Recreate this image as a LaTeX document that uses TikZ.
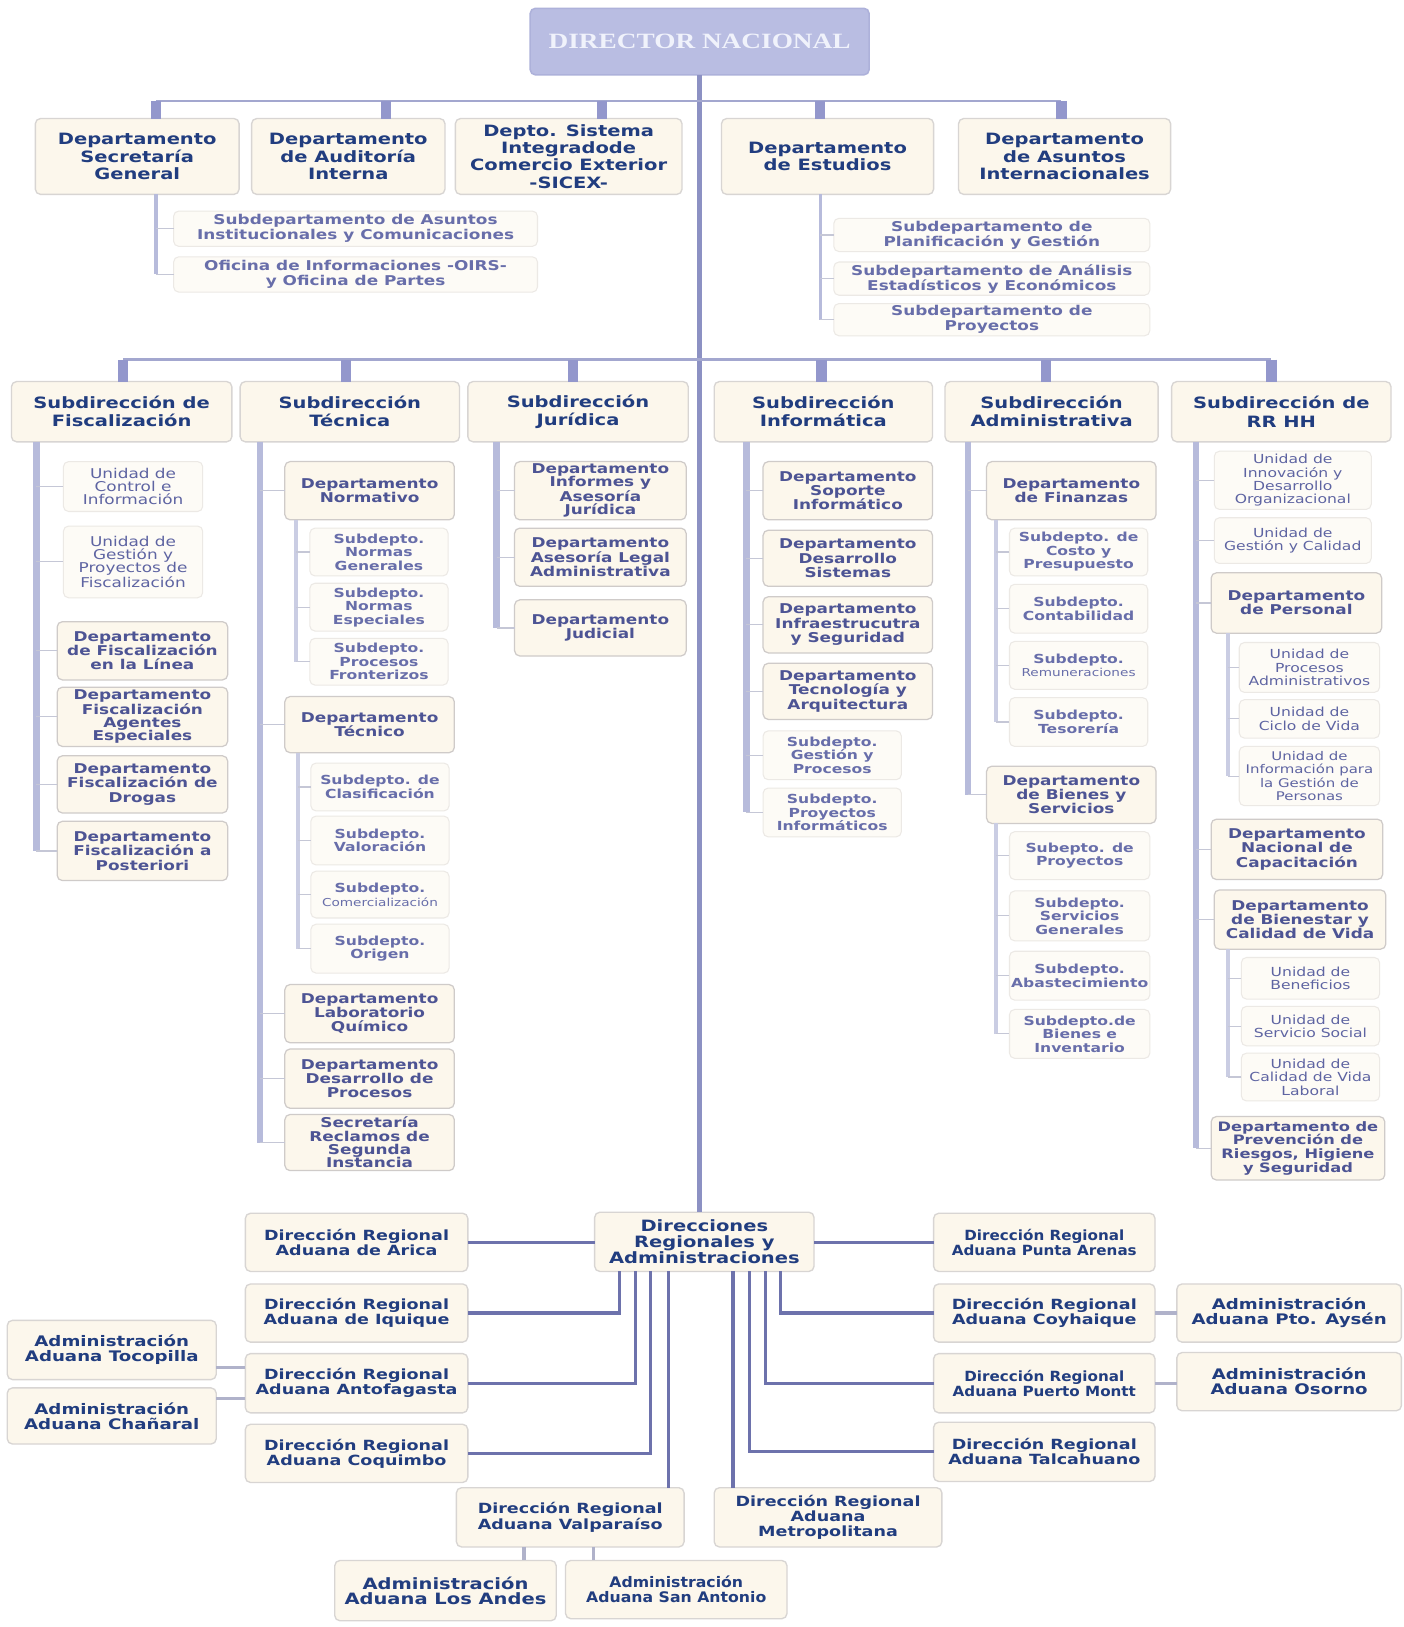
\documentclass[tikz,border=0pt]{standalone}
\usepackage{fontspec}
\newfontfamily\bxf[FakeStretch=1.25]{DejaVu Sans}
\newfontfamily\bxn[FakeStretch=1.08]{DejaVu Sans}
\newfontfamily\dirf[FakeStretch=1.25]{Liberation Serif}
\definecolor{cNavy}{HTML}{213D7F}
\definecolor{cMid}{HTML}{4D5494}
\definecolor{cLav}{HTML}{686EAA}
\definecolor{cUnit}{HTML}{5E64A2}
\definecolor{cCream}{HTML}{FCF7EC}
\definecolor{cCream2}{HTML}{FDFBF6}
\definecolor{cBord}{HTML}{D8D5D3}
\definecolor{cBordD}{HTML}{CFCBC9}
\definecolor{cBord2}{HTML}{ECE9E5}
\definecolor{cDir}{HTML}{B9BDE2}
\definecolor{cDirB}{HTML}{ADB1DA}
\definecolor{cDirT}{HTML}{F0F2FB}
\definecolor{cTrunk}{HTML}{8C91C3}
\definecolor{cH}{HTML}{A3A7CF}
\definecolor{cStub}{HTML}{9397CC}
\definecolor{cBar}{HTML}{B7BBDB}
\definecolor{cSubBar}{HTML}{CACDE3}
\definecolor{cKid}{HTML}{C5C7D6}
\definecolor{cReg}{HTML}{6D72AC}
\definecolor{cAdm}{HTML}{B0B2CA}
\newcommand\ob[7]{%
  \pgfmathsetmacro\obw{#5-#3}\pgfmathsetmacro\obh{#6-#4}%
  \pgfmathsetmacro\obx{(#3+#5)/2}\pgfmathsetmacro\oby{(#4+#6)/2}%
  \node[#1,minimum width=\obw pt,minimum height=\obh pt] (#2) at (\obx,\oby) {#7};}
\newcommand\okidto[2]{\draw[okid] (#2.west) -- (#2.west -| #1);}
\tikzset{
 obase/.style={rounded corners=5pt, inner sep=0pt, outer sep=0pt, align=center},
 dirbox/.style={obase, fill=cDir, draw=cDirB, line width=1.5pt, text=cDirT, font=\dirf\bfseries\fontsize{21}{22}\selectfont},
 topbox/.style={obase, fill=cCream, draw=cBord, line width=1.3pt, text=cNavy, font=\bxf\bfseries\fontsize{15}{16.5}\selectfont},
 subone/.style={obase, fill=cCream2, draw=cBord2, line width=1pt, text=cLav, font=\bxf\bfseries\fontsize{13}{14.5}\selectfont},
 headbox/.style={obase, fill=cCream, draw=cBord, line width=1.3pt, text=cNavy, font=\bxf\bfseries\fontsize{15}{17.5}\selectfont},
 deptbox/.style={obase, fill=cCream, draw=cBordD, line width=1.2pt, text=cMid, font=\bxf\bfseries\fontsize{13}{13.8}\selectfont},
 sdepbox/.style={obase, fill=cCream2, draw=cBord2, line width=1pt, text=cLav, font=\bxf\bfseries\fontsize{12}{13}\selectfont},
 unitbox/.style={obase, fill=cCream2, draw=cBord2, line width=1pt, text=cUnit, font=\bxf\fontsize{12}{12.8}\selectfont},
 regbox/.style={obase, fill=cCream, draw=cBord, line width=1.3pt, text=cNavy, font=\bxf\bfseries\fontsize{13.5}{14.5}\selectfont},
 admbox/.style={regbox, font=\bxf\bfseries\fontsize{14}{14.5}\selectfont},
 otrunk/.style={draw=cTrunk, line width=4.5pt},
 ohline/.style={draw=cH, line width=2.5pt},
 ostub/.style={draw=cStub, line width=10pt},
 obar/.style={draw=cBar, line width=6pt},
 osubbar/.style={draw=cSubBar, line width=4pt},
 otopbar/.style={draw=cBar, line width=3pt},
 okid/.style={draw=cKid, line width=1.1pt},
 oreg/.style={draw=cReg, line width=3pt},
 oadm/.style={draw=cAdm, line width=3pt},
}
\begin{document}
\begin{tikzpicture}[x=1pt,y=-1pt]
\useasboundingbox[fill=white] (0,0) rectangle (1350,1565);
% ---------- top level ----------
\ob{dirbox}{dir}{510}{8}{836}{72}{DIRECTOR NACIONAL}
\ob{topbox}{sg}{34}{114}{230}{187}{Departamento\\Secretaría\\General}
\ob{topbox}{ai}{242}{114}{428}{187}{Departamento\\de Auditoría\\Interna}
\ob{topbox}{sx}{438}{114}{656}{187}{Depto. Sistema\\Integradode\\Comercio Exterior\\-SICEX-}
\ob{topbox}{es}{694}{114}{898}{187}{Departamento\\de Estudios}
\ob{topbox}{ri}{922}{114}{1126}{187}{Departamento\\de Asuntos\\Internacionales}
\ob{subone}{sg1}{167}{203}{517}{237}{Subdepartamento de Asuntos\\Institucionales y Comunicaciones}
\ob{subone}{sg2}{167}{247}{517}{281}{Oficina de Informaciones -OIRS-\\y Oficina de Partes}
\ob{subone}{es1}{802}{210}{1106}{242}{Subdepartamento de\\Planificación y Gestión}
\ob{subone}{es2}{802}{252}{1106}{284}{Subdepartamento de Análisis\\Estadísticos y Económicos}
\ob{subone}{es3}{802}{292}{1106}{323}{Subdepartamento de\\Proyectos}
% ---------- subdirecciones ----------
\ob{headbox}{fi}{11}{367}{223}{425}{Subdirección de\\Fiscalización}
\ob{headbox}{te}{231}{367}{442}{425}{Subdirección\\Técnica}
\ob{headbox}{ju}{450}{367}{662}{425}{Subdirección\\Jurídica}
\ob{headbox}{in}{687}{367}{897}{425}{Subdirección\\Informática}
\ob{headbox}{ad}{909}{367}{1114}{425}{Subdirección\\Administrativa}
\ob{headbox}{rh}{1127}{367}{1338}{425}{Subdirección de\\RR HH}
% Fiscalizacion
\ob{unitbox,font=\bxf\fontsize{13}{12.8}\selectfont}{f1}{61}{444}{195}{492}{Unidad de\\Control e\\Información}
\ob{unitbox,font=\bxf\fontsize{13}{12.8}\selectfont}{f2}{61}{506}{195}{575}{Unidad de\\Gestión y\\Proyectos de\\Fiscalización}
\ob{deptbox}{f3}{55}{598}{219}{654}{Departamento\\de Fiscalización\\en la Línea}
\ob{deptbox,font=\bxf\bfseries\fontsize{13}{12.8}\selectfont}{f4}{55}{661}{219}{718}{Departamento\\Fiscalización\\Agentes\\Especiales}
\ob{deptbox}{f5}{55}{727}{219}{782}{Departamento\\Fiscalización de\\Drogas}
\ob{deptbox}{f6}{55}{790}{219}{847}{Departamento\\Fiscalización a\\Posteriori}
% Tecnica
\ob{deptbox}{t1}{274}{444}{437}{500}{Departamento\\Normativo}
\ob{sdepbox}{t11}{298}{508}{431}{554}{Subdepto.\\Normas\\Generales}
\ob{sdepbox}{t12}{298}{561}{431}{607}{Subdepto.\\Normas\\Especiales}
\ob{sdepbox}{t13}{298}{614}{431}{659}{Subdepto.\\Procesos\\Fronterizos}
\ob{deptbox}{t2}{274}{670}{437}{724}{Departamento\\Técnico}
\ob{sdepbox}{t21}{299}{734}{432}{780}{Subdepto. de\\Clasificación}
\ob{sdepbox}{t22}{299}{785}{432}{832}{Subdepto.\\Valoración}
\ob{sdepbox}{t23}{299}{838}{432}{883}{Subdepto.\\{\mdseries\fontsize{10.5}{13}\selectfont Comercialización}}
\ob{sdepbox}{t24}{299}{889}{432}{936}{Subdepto.\\Origen}
\ob{deptbox}{t3}{274}{947}{437}{1003}{Departamento\\Laboratorio\\Químico}
\ob{deptbox}{t4}{274}{1009}{437}{1066}{Departamento\\Desarrollo de\\Procesos}
\ob{deptbox,font=\bxf\bfseries\fontsize{13}{12.8}\selectfont}{t5}{274}{1072}{437}{1126}{Secretaría\\Reclamos de\\Segunda\\Instancia}
% Juridica
\ob{deptbox,font=\bxf\bfseries\fontsize{13}{12.8}\selectfont}{j1}{495}{444}{660}{500}{Departamento\\Informes y\\Asesoría\\Jurídica}
\ob{deptbox}{j2}{495}{508}{660}{564}{Departamento\\Asesoría Legal\\Administrativa}
\ob{deptbox}{j3}{495}{577}{660}{631}{Departamento\\Judicial}
% Informatica
\ob{deptbox}{i1}{734}{444}{897}{500}{Departamento\\Soporte\\Informático}
\ob{deptbox}{i2}{734}{510}{897}{564}{Departamento\\Desarrollo\\Sistemas}
\ob{deptbox}{i3}{734}{574}{897}{628}{Departamento\\Infraestrucutra\\y Seguridad}
\ob{deptbox}{i4}{734}{638}{897}{692}{Departamento\\Tecnología y\\Arquitectura}
\ob{sdepbox}{i5}{734}{703}{867}{750}{Subdepto.\\Gestión y\\Procesos}
\ob{sdepbox}{i6}{734}{758}{867}{805}{Subdepto.\\Proyectos\\Informáticos}
% Administrativa
\ob{deptbox}{a1}{949}{444}{1112}{500}{Departamento\\de Finanzas}
\ob{sdepbox}{a11}{971}{508}{1104}{554}{Subdepto. de\\Costo y\\Presupuesto}
\ob{sdepbox}{a12}{971}{562}{1104}{609}{Subdepto.\\Contabilidad}
\ob{sdepbox}{a13}{971}{617}{1104}{663}{Subdepto.\\{\mdseries\fontsize{10.5}{13}\selectfont Remuneraciones}}
\ob{sdepbox}{a14}{971}{671}{1104}{718}{Subdepto.\\Tesorería}
\ob{deptbox}{a2}{949}{737}{1112}{792}{Departamento\\de Bienes y\\Servicios}
\ob{sdepbox}{a21}{971}{800}{1106}{846}{Subepto. de\\Proyectos}
\ob{sdepbox}{a22}{971}{857}{1106}{905}{Subdepto.\\Servicios\\Generales}
\ob{sdepbox}{a23}{971}{915}{1106}{962}{Subdepto.\\Abastecimiento}
\ob{sdepbox}{a24}{971}{971}{1106}{1018}{Subdepto.de\\Bienes e\\Inventario}
% RR HH
\ob{unitbox}{r1}{1168}{434}{1319}{490}{Unidad de\\Innovación y\\Desarrollo\\Organizacional}
\ob{unitbox}{r2}{1168}{498}{1319}{542}{Unidad de\\Gestión y Calidad}
\ob{deptbox}{r3}{1165}{551}{1329}{609}{Departamento\\de Personal}
\ob{unitbox}{r31}{1192}{618}{1327}{666}{Unidad de\\Procesos\\Administrativos}
\ob{unitbox}{r32}{1192}{673}{1327}{710}{Unidad de\\Ciclo de Vida}
\ob{unitbox,font=\bxf\fontsize{11.5}{12.8}\selectfont}{r33}{1192}{718}{1327}{775}{Unidad de\\Información para\\la Gestión de\\Personas}
\ob{deptbox}{r4}{1165}{788}{1330}{846}{Departamento\\Nacional de\\Capacitación}
\ob{deptbox}{r5}{1168}{856}{1333}{913}{Departamento\\de Bienestar y\\Calidad de Vida}
\ob{unitbox}{r51}{1194}{921}{1327}{961}{Unidad de\\Beneficios}
\ob{unitbox}{r52}{1194}{968}{1327}{1006}{Unidad de\\Servicio Social}
\ob{unitbox}{r53}{1194}{1013}{1327}{1059}{Unidad de\\Calidad de Vida\\Laboral}
\ob{deptbox,font=\bxf\bfseries\fontsize{12.5}{13.2}\selectfont}{r6}{1165}{1074}{1332}{1135}{Departamento de\\Prevención de\\Riesgos, Higiene\\y Seguridad}
% ---------- regional ----------
\ob{regbox,font=\bxf\bfseries\fontsize{15}{14.5}\selectfont}{dr}{572}{1166}{783}{1223}{Direcciones\\Regionales y\\Administraciones}
\ob{regbox}{ar}{236}{1167}{450}{1223}{Dirección Regional\\Aduana de Arica}
\ob{regbox}{iq}{236}{1235}{450}{1291}{Dirección Regional\\Aduana de Iquique}
\ob{regbox}{an}{236}{1302}{450}{1359}{Dirección Regional\\Aduana Antofagasta}
\ob{regbox}{co}{236}{1370}{450}{1426}{Dirección Regional\\Aduana Coquimbo}
\ob{regbox}{vp}{439}{1431}{658}{1488}{Dirección Regional\\Aduana Valparaíso}
\ob{regbox}{me}{687}{1431}{906}{1488}{Dirección Regional\\Aduana\\Metropolitana}
\ob{regbox,font=\bxn\bfseries\fontsize{13.5}{14.5}\selectfont}{pa}{898}{1167}{1111}{1223}{Dirección Regional\\Aduana Punta Arenas}
\ob{regbox}{cy}{898}{1235}{1111}{1291}{Dirección Regional\\Aduana Coyhaique}
\ob{regbox,font=\bxn\bfseries\fontsize{13.5}{14.5}\selectfont}{pm}{898}{1302}{1111}{1359}{Dirección Regional\\Aduana Puerto Montt}
\ob{regbox}{ta}{898}{1368}{1111}{1425}{Dirección Regional\\Aduana Talcahuano}
\ob{admbox}{ay}{1132}{1235}{1348}{1291}{Administración\\Aduana Pto. Aysén}
\ob{admbox}{os}{1132}{1301}{1348}{1357}{Administración\\Aduana Osorno}
\ob{admbox}{tc}{7}{1270}{208}{1327}{Administración\\Aduana Tocopilla}
\ob{admbox}{ch}{7}{1335}{208}{1389}{Administración\\Aduana Chañaral}
\ob{admbox,font=\bxf\bfseries\fontsize{15}{14.5}\selectfont}{la}{322}{1501}{535}{1559}{Administración\\Aduana Los Andes}
\ob{admbox,font=\bxn\bfseries\fontsize{14}{14.5}\selectfont}{sa}{544}{1501}{757}{1557}{Administración\\Aduana San Antonio}
% ---------- connectors: top ----------
\draw[otrunk] (dir.south) -- (dir.south |- dr.north);
\coordinate (u1) at (150,97); \coordinate (u2) at (371,97); \coordinate (u3) at (579,97);
\coordinate (u4) at (789,97); \coordinate (u5) at (1021,97);
\draw[ohline] (u1) -- (u5);
\draw[ostub] (u1) -- (sg.north -| u1);
\draw[ostub] (u2) -- (ai.north -| u2);
\draw[ostub] (u3) -- (sx.north -| u3);
\draw[ostub] (u4) -- (es.north -| u4);
\draw[ostub] (u5) -- (ri.north -| u5);
\draw[otopbar] (sg.south -| u1) -- (sg2.west -| u1);
\okidto{u1}{sg1}\okidto{u1}{sg2}
\draw[otopbar] (es.south -| u4) -- (es3.west -| u4);
\okidto{u4}{es1}\okidto{u4}{es2}\okidto{u4}{es3}
% ---------- connectors: subdirecciones ----------
\coordinate (v1) at (118.6,346); \coordinate (v2) at (333,346); \coordinate (v3) at (551,346);
\coordinate (v4) at (790,346); \coordinate (v5) at (1006,346); \coordinate (v6) at (1223,346);
\draw[ohline] (v1) -- (v6);
\draw[ostub] (v1) -- (fi.north -| v1);
\draw[ostub] (v2) -- (te.north -| v2);
\draw[ostub] (v3) -- (ju.north -| v3);
\draw[ostub] (v4) -- (in.north -| v4);
\draw[ostub] (v5) -- (ad.north -| v5);
\draw[ostub] (v6) -- (rh.north -| v6);
% Fiscalizacion
\coordinate (fb) at (35,0);
\draw[obar] (fi.south -| fb) -- (f6.west -| fb);
\okidto{fb}{f1}\okidto{fb}{f2}\okidto{fb}{f3}\okidto{fb}{f4}\okidto{fb}{f5}\okidto{fb}{f6}
% Tecnica
\coordinate (tb) at (250,0); \coordinate (tb1) at (285,0); \coordinate (tb2) at (287,0);
\draw[obar] (te.south -| tb) -- (t5.west -| tb);
\okidto{tb}{t1}\okidto{tb}{t2}\okidto{tb}{t3}\okidto{tb}{t4}\okidto{tb}{t5}
\draw[osubbar] (t1.south -| tb1) -- (t13.west -| tb1);
\okidto{tb1}{t11}\okidto{tb1}{t12}\okidto{tb1}{t13}
\draw[osubbar] (t2.south -| tb2) -- (t24.west -| tb2);
\okidto{tb2}{t21}\okidto{tb2}{t22}\okidto{tb2}{t23}\okidto{tb2}{t24}
% Juridica
\coordinate (jb) at (477.6,0);
\draw[obar] (ju.south -| jb) -- (j3.west -| jb);
\okidto{jb}{j1}\okidto{jb}{j2}\okidto{jb}{j3}
% Informatica
\coordinate (ib) at (718,0);
\draw[obar] (in.south -| ib) -- (i6.west -| ib);
\okidto{ib}{i1}\okidto{ib}{i2}\okidto{ib}{i3}\okidto{ib}{i4}\okidto{ib}{i5}\okidto{ib}{i6}
% Administrativa
\coordinate (ab) at (931,0); \coordinate (ab1) at (958,0);
\draw[obar] (ad.south -| ab) -- (a2.west -| ab);
\okidto{ab}{a1}\okidto{ab}{a2}
\draw[osubbar] (a1.south -| ab1) -- (a14.west -| ab1);
\okidto{ab1}{a11}\okidto{ab1}{a12}\okidto{ab1}{a13}\okidto{ab1}{a14}
\draw[osubbar] (a2.south -| ab1) -- (a24.west -| ab1);
\okidto{ab1}{a21}\okidto{ab1}{a22}\okidto{ab1}{a23}\okidto{ab1}{a24}
% RR HH
\coordinate (rb) at (1150.7,0); \coordinate (rb1) at (1181,0);
\draw[obar] (rh.south -| rb) -- (r6.west -| rb);
\okidto{rb}{r1}\okidto{rb}{r2}\okidto{rb}{r3}\okidto{rb}{r4}\okidto{rb}{r5}\okidto{rb}{r6}
\draw[osubbar] (r3.south -| rb1) -- (r33.west -| rb1);
\okidto{rb1}{r31}\okidto{rb1}{r32}\okidto{rb1}{r33}
\draw[osubbar] (r5.south -| rb1) -- (r53.west -| rb1);
\okidto{rb1}{r51}\okidto{rb1}{r52}\okidto{rb1}{r53}
% ---------- connectors: regional ----------
\coordinate (L1) at (596,0); \coordinate (L2) at (611,0); \coordinate (L3) at (626,0); \coordinate (L4) at (643,0);
\coordinate (R1) at (705,0); \coordinate (R2) at (721,0); \coordinate (R3) at (736,0); \coordinate (R4) at (751,0);
\draw[oreg] (ar.east) -- (ar.east -| dr.west);
\draw[oreg] (pa.west) -- (pa.west -| dr.east);
\draw[oreg] (dr.south -| L1) |- (iq.east);
\draw[oreg] (dr.south -| L2) |- (an.east);
\draw[oreg] (dr.south -| L3) |- (co.east);
\draw[oreg] (dr.south -| L4) -- (vp.north -| L4);
\draw[oreg] (dr.south -| R1) -- (me.north -| R1);
\draw[oreg] (dr.south -| R2) |- (ta.west);
\draw[oreg] (dr.south -| R3) |- (pm.west);
\draw[oreg] (dr.south -| R4) |- (cy.west);
\coordinate (A1) at (504,0); \coordinate (A2) at (571,0);
\draw[oadm] ([yshift=15pt]an.west) -- ([yshift=15pt]an.west -| tc.east);
\draw[oadm] ([yshift=-15pt]an.west) -- ([yshift=-15pt]an.west -| ch.east);
\draw[oadm] (cy.east) -- (cy.east -| ay.west);
\draw[oadm] (pm.east) -- (pm.east -| os.west);
\draw[oadm] (vp.south -| A1) -- (la.north -| A1);
\draw[oadm] (vp.south -| A2) -- (sa.north -| A2);
\end{tikzpicture}
\end{document}
